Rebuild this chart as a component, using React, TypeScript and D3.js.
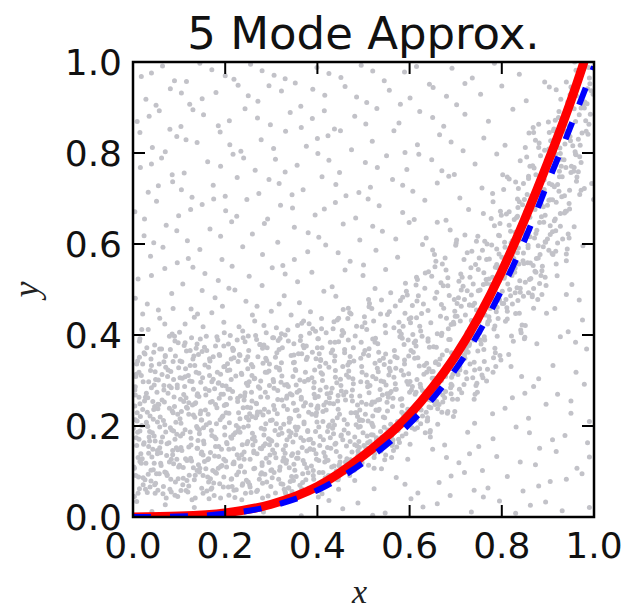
import React, { useEffect, useRef } from "react";
import * as d3 from "d3";

const W = 628;
const H = 615;
const plot = { left: 133, right: 594, top: 62, bottom: 517 };

const xTicks = [0, 0.2, 0.4, 0.6, 0.8, 1.0];
const yTicks = [0, 0.2, 0.4, 0.6, 0.8, 1.0];

// curves
const curveX = [0, 0.1, 0.2, 0.3, 0.4, 0.5, 0.6, 0.65, 0.7, 0.75, 0.8, 0.85, 0.9, 0.95, 0.975, 1.0];
const exactY = [0, 0.002, 0.009, 0.028, 0.067, 0.135, 0.225, 0.285, 0.355, 0.44, 0.54, 0.655, 0.78, 0.915, 0.99, 1.07];
const approxY = [0, 0.001, 0.007, 0.024, 0.059, 0.12, 0.205, 0.26, 0.325, 0.405, 0.5, 0.61, 0.735, 0.86, 0.925, 0.99];

// scatter samples, x,y pairs in thousandths
const spreadPts = [
  8,34, 41,12, 97,45, 133,21, 190,7, 236,38, 251,16, 312,29, 365,3, 402,44, 455,18, 488,31, 547,9, 603,40, 629,22, 688,47, 734,11, 795,35, 862,26, 931,14,
  70,27, 165,40, 283,11, 425,36, 520,4, 660,29, 760,44, 830,8, 895,33, 990,21,
  22,71, 74,93, 115,58, 168,84, 207,66, 279,97, 330,55, 348,80, 411,69, 470,91, 523,62, 571,87, 618,53, 664,76, 719,98, 770,64, 812,89, 846,57, 905,78, 974,95,
  48,52, 144,99, 250,77, 380,61, 445,85, 590,72, 690,90, 740,59, 880,68, 940,83,
  15,122, 60,141, 131,108, 152,136, 219,117, 262,145, 301,104, 358,129, 392,148, 447,113, 501,138, 539,106, 596,127, 650,149, 707,119, 758,102, 789,133, 873,115, 918,144, 963,107,
  95,127, 190,111, 330,140, 420,124, 480,103, 565,146, 680,131, 730,139, 840,121, 990,132,
  36,167, 88,189, 104,153, 177,176, 229,196, 287,161, 323,184, 381,170, 424,199, 463,156, 517,181, 578,164, 611,193, 676,158, 726,186, 781,172, 831,198, 882,151, 937,179, 986,163,
  10,186, 140,195, 260,158, 355,191, 490,166, 545,197, 645,176, 750,155, 860,185, 910,170,
  5,214, 54,238, 121,226, 159,203, 203,247, 246,219, 307,236, 339,208, 398,229, 435,249, 491,212, 552,233, 587,205, 642,242, 695,221, 741,206, 807,239, 858,217, 896,248, 950,228,
  30,201, 90,243, 270,231, 370,244, 465,204, 520,222, 615,213, 670,230, 780,227, 990,210,
  27,263, 79,288, 140,271, 186,295, 241,257, 275,283, 334,266, 372,298, 419,252, 476,279, 508,296, 564,261, 624,285, 659,254, 713,273, 767,299, 823,262, 869,287, 921,270, 979,292,
  110,254, 210,281, 305,297, 445,267, 535,258, 600,274, 690,292, 740,259, 850,272, 950,255,
  13,318, 67,341, 102,306, 164,329, 213,347, 258,311, 296,336, 353,322, 407,344, 450,303, 496,331, 543,349, 598,315, 637,338, 691,307, 752,326, 798,345, 843,309, 911,333, 961,318,
  40,333, 130,347, 190,314, 380,302, 470,340, 520,309, 570,327, 720,349, 820,331, 880,304,
  45,362, 91,387, 137,371, 182,396, 232,355, 284,378, 319,393, 366,359, 428,384, 459,368, 520,391, 568,353, 614,376, 669,399, 722,364, 763,389, 815,357, 876,381, 927,396, 984,369,
  15,392, 70,353, 160,366, 250,398, 400,372, 500,358, 640,392, 700,361, 850,395, 960,384,
  19,412, 58,437, 113,424, 171,449, 198,405, 264,431, 311,416, 343,444, 396,408, 443,433, 485,419, 537,446, 582,402, 646,427, 703,441, 738,413, 792,436, 851,421, 897,448, 944,407,
  85,402, 140,446, 230,418, 370,431, 470,449, 615,438, 670,404, 770,429, 830,447, 975,433,
  31,468, 84,491, 126,457, 178,482, 221,499, 269,463, 328,486, 361,471, 414,496, 467,459, 511,478, 559,493, 606,465, 655,481, 698,452, 749,497, 804,469, 866,488, 915,458, 968,477,
  5,481, 55,455, 150,498, 245,474, 300,452, 440,485, 580,476, 730,466, 840,494, 940,489,
  11,523, 69,546, 108,512, 156,535, 208,503, 252,529, 302,548, 357,517, 388,538, 432,506, 499,531, 548,544, 591,514, 641,539, 683,508, 731,527, 786,549, 839,519, 887,541, 952,511,
  40,531, 130,549, 185,520, 280,509, 330,534, 460,543, 525,502, 615,527, 760,511, 920,530,
  38,573, 96,559, 145,588, 193,566, 238,594, 281,577, 325,553, 379,583, 418,598, 471,562, 527,586, 574,571, 628,599, 671,556, 725,581, 773,567, 818,592, 862,558, 909,579, 976,596,
  65,593, 120,568, 215,551, 350,566, 445,581, 500,554, 650,587, 700,597, 790,551, 940,563,
  24,618, 72,641, 118,607, 167,633, 214,649, 259,622, 314,604, 350,637, 403,615, 456,644, 492,609, 541,628, 599,647, 636,613, 688,631, 745,606, 796,645, 847,624, 899,611, 957,638,
  45,603, 95,629, 190,617, 285,645, 380,625, 520,639, 570,611, 660,648, 720,620, 820,602,
  4,671, 51,694, 99,662, 150,687, 201,673, 247,698, 292,655, 346,679, 395,664, 439,691, 483,657, 534,684, 585,669, 633,696, 679,652, 728,676, 781,693, 834,661, 885,688, 940,672,
  25,655, 125,676, 175,699, 225,661, 320,685, 415,677, 510,699, 610,654, 760,667, 910,697,
  33,714, 86,737, 128,703, 174,729, 226,746, 273,711, 317,733, 369,719, 410,748, 462,706, 515,725, 563,742, 607,716, 660,734, 709,701, 757,723, 812,747, 855,709, 921,731, 972,718,
  55,728, 105,719, 200,705, 295,742, 345,708, 440,731, 490,713, 585,729, 685,749, 780,711,
  16,768, 62,789, 111,756, 162,781, 217,797, 265,762, 309,786, 356,773, 401,799, 448,757, 504,779, 550,794, 594,764, 648,785, 697,753, 742,776, 789,798, 870,767, 914,790, 966,759,
  40,776, 85,752, 190,771, 240,789, 330,758, 425,784, 530,768, 620,797, 670,761, 840,783,
  42,812, 95,836, 139,823, 189,846, 234,804, 278,829, 331,848, 376,815, 423,838, 474,807, 519,826, 566,849, 617,818, 665,840, 716,805, 761,833, 807,817, 859,844, 902,809, 949,827,
  15,845, 70,803, 115,829, 210,818, 305,810, 400,832, 450,849, 590,801, 690,824, 880,812,
  9,869, 57,893, 104,858, 153,884, 209,871, 243,897, 298,862, 341,889, 389,876, 437,853, 481,881, 529,898, 577,866, 622,891, 674,859, 720,885, 771,870, 824,896, 880,863, 935,886,
  35,881, 80,852, 130,895, 185,860, 270,877, 365,856, 415,893, 505,864, 650,878, 960,869,
  28,918, 81,941, 123,907, 180,933, 228,949, 271,914, 322,936, 364,903, 416,927, 460,946, 507,911, 556,938, 601,921, 651,944, 702,906, 754,929, 800,947, 853,915, 918,939, 980,912,
  50,905, 105,932, 150,919, 250,926, 295,948, 390,940, 485,923, 580,907, 680,925, 950,945,
  18,968, 64,991, 116,957, 171,983, 219,962, 255,995, 306,971, 352,954, 399,988, 451,966, 495,993, 545,959, 589,978, 643,951, 692,986, 736,965, 784,997, 838,973, 893,956, 961,982,
  40,976, 90,959, 145,997, 200,970, 280,981, 330,963, 425,975, 520,980, 615,990, 720,953,
];

const bandPts = [
  3,45, 12,88, 27,61, 41,132, 8,157, 19,201, 35,176, 47,243, 5,268, 22,297, 38,322, 14,351, 30,372, 44,215, 2,110, 17,139, 33,94, 48,167, 9,229, 25,255,
  40,284, 6,309, 21,336, 36,188, 49,74, 11,52, 28,118, 43,149, 1,195, 16,221, 32,262, 46,290, 7,314, 24,361, 39,103, 13,171, 29,208, 45,236, 4,279, 20,128,
  34,155, 48,319, 10,343, 26,82, 42,185, 15,249, 31,230, 37,66, 23,160, 46,118,
  57,336, 91,48, 66,212, 83,127, 52,274, 98,383, 74,91, 61,165, 88,302, 79,239, 95,182, 54,59, 70,355, 86,146, 63,257, 99,110, 76,323, 58,198, 92,77, 67,289,
  81,368, 53,139, 97,226, 72,42, 89,264, 60,118, 84,191, 75,309, 94,152, 56,247, 69,99, 87,342, 64,176, 80,61, 96,284, 59,220, 73,135, 90,397, 55,301, 82,83,
  68,253, 93,208, 62,369, 78,163, 99,328, 51,95, 85,233, 71,187, 65,51, 88,117,
  134,219, 108,71, 147,296, 121,154, 102,343, 139,102, 115,262, 128,38, 144,183, 111,377, 125,129, 137,318, 104,206, 149,63, 118,239, 131,281, 106,146, 142,357, 122,92, 113,192,
  136,251, 101,114, 146,227, 127,394, 119,55, 141,168, 107,305, 133,82, 124,333, 148,139, 110,269, 138,199, 116,365, 103,178, 129,246, 145,107, 120,311, 135,42, 112,287, 143,265,
  105,232, 126,173, 139,380, 117,124, 132,354, 149,213, 109,85, 123,299, 140,151, 114,326,
  162,88, 187,261, 153,196, 176,47, 199,331, 168,142, 184,389, 157,235, 193,113, 171,297, 150,364, 180,172, 196,66, 165,278, 189,214, 155,122, 174,352, 198,245, 160,57, 183,318,
  170,190, 192,149, 151,306, 178,99, 197,376, 163,226, 186,133, 158,268, 175,75, 194,289, 167,343, 181,205, 154,161, 190,42, 172,254, 199,180, 159,397, 185,107, 166,311, 195,222,
  152,91, 177,282, 188,355, 164,128, 191,270, 156,334, 179,155, 197,127, 169,61, 182,240,
  213,302, 238,73, 204,161, 226,389, 247,218, 219,121, 233,266, 208,48, 245,345, 222,185, 201,247, 236,137, 216,371, 242,99, 229,229, 210,323, 249,166, 224,60, 206,281, 240,197,
  218,150, 231,357, 203,110, 246,294, 227,254, 214,84, 239,394, 209,207, 235,316, 221,43, 248,241, 212,176, 230,129, 205,337, 243,273, 225,93, 217,366, 237,159, 202,229, 244,52,
  223,310, 211,261, 234,112, 228,189, 207,380, 241,143, 219,350, 232,216, 215,67, 249,326,
  262,141, 287,318, 253,71, 276,231, 299,102, 268,390, 284,180, 257,274, 293,46, 271,352, 250,200, 280,119, 296,289, 265,167, 289,405, 255,240, 274,83, 298,212, 260,330, 283,156,
  270,59, 292,263, 251,366, 278,195, 297,136, 263,304, 286,94, 258,221, 275,379, 294,172, 267,250, 281,42, 254,127, 290,344, 272,286, 299,67, 259,184, 285,237, 266,399, 295,321,
  252,297, 279,150, 288,205, 264,107, 291,372, 256,54, 277,264, 296,159, 269,224, 282,338,
  313,227, 338,64, 304,302, 326,148, 349,381, 319,110, 333,261, 308,190, 345,56, 322,339, 301,167, 336,411, 316,83, 342,216, 329,290, 310,130, 348,250, 324,372, 306,98, 340,177,
  318,323, 331,52, 303,394, 346,139, 327,204, 314,278, 339,108, 309,351, 335,236, 321,73, 347,309, 312,158, 330,400, 305,245, 343,185, 325,123, 317,368, 337,287, 302,213, 344,89,
  323,257, 311,329, 334,170, 328,61, 307,140, 349,356, 320,195, 341,271, 315,388, 332,118,
  362,301, 387,112, 353,181, 376,376, 399,239, 368,76, 384,150, 357,421, 393,270, 371,205, 350,340, 380,97, 396,188, 365,259, 389,362, 355,129, 374,318, 398,67, 360,222, 383,404,
  370,168, 392,284, 351,103, 378,351, 397,139, 363,388, 386,246, 358,197, 375,82, 394,323, 367,153, 381,230, 354,290, 390,414, 372,117, 399,209, 359,359, 385,171, 366,62, 395,262,
  352,234, 377,145, 388,306, 364,397, 391,91, 356,274, 379,190, 397,348, 369,124, 382,425,
  413,170, 438,354, 404,98, 426,262, 449,133, 419,405, 433,211, 408,317, 445,82, 422,188, 401,244, 436,429, 416,121, 442,295, 429,151, 410,372, 448,226, 424,91, 406,279, 440,162,
  418,338, 431,110, 403,198, 446,385, 427,250, 414,142, 439,307, 409,436, 435,183, 421,271, 447,114, 412,232, 430,361, 405,157, 443,218, 425,329, 417,86, 437,202, 402,392, 444,255,
  423,125, 411,300, 434,414, 428,174, 407,346, 441,101, 419,235, 432,283,
  458,191, 495,384, 472,117, 451,289, 486,156, 466,436, 492,235, 479,343, 460,103, 498,212, 474,266, 456,456, 490,140, 468,321, 481,176, 453,399, 496,252, 477,304, 464,128, 489,197,
  459,361, 485,229, 471,166, 497,418, 462,275, 480,108, 455,331, 493,214, 475,143, 467,389, 487,246, 452,180, 494,297, 473,446, 461,121, 484,203, 478,372, 457,268, 491,153, 469,340,
  482,229, 463,312, 488,135, 454,410, 476,255, 499,185,
  510,211, 548,405, 524,139, 506,312, 540,176, 518,458, 531,257, 503,366, 546,126, 527,235, 514,289, 539,477, 509,163, 535,344, 521,199, 547,421, 512,273, 530,327, 505,152, 543,220,
  525,384, 517,247, 537,188, 502,440, 544,297, 523,131, 511,355, 534,237, 528,168, 507,412, 541,268, 519,203, 532,319, 513,469, 538,145, 504,226, 526,393, 549,290, 519,253, 533,362,
  508,178, 545,335, 522,431, 501,157, 536,280,
  596,237, 577,428, 564,169, 589,336, 559,204, 585,483, 571,281, 597,389, 562,157, 580,259, 555,312, 593,496, 575,190, 567,366, 587,225, 552,445, 594,298, 573,350, 561,178, 584,245,
  578,408, 557,272, 591,214, 569,464, 582,322, 563,162, 588,379, 554,263, 576,197, 599,435, 569,293, 583,230, 558,341, 595,488, 572,154, 551,252, 586,419, 566,307, 592,183, 579,396,
  560,276, 598,354, 574,210, 556,451,
  612,270, 630,468, 605,196, 643,373, 625,235, 617,522, 637,318, 602,427, 644,186, 623,292, 611,349, 634,536, 628,222, 607,401, 641,258, 619,486, 632,333, 613,387, 638,211, 604,279,
  626,447, 649,305, 619,247, 633,503, 608,362, 645,190, 622,419, 601,298, 636,230, 616,475, 642,326, 629,263, 610,383, 648,529, 624,205, 606,287, 640,454, 618,350, 631,314, 603,438,
  646,240, 627,397, 614,510, 639,218,
  694,314, 673,508, 661,238, 684,414, 678,276, 657,562, 691,361, 669,467, 682,228, 663,335, 688,390, 654,577, 676,262, 699,441, 669,300, 683,526, 658,373, 695,428, 672,253, 651,320,
  686,487, 666,347, 692,289, 679,543, 660,403, 698,232, 674,459, 656,339, 690,271, 668,515, 681,366, 653,305, 696,424, 677,569, 664,247, 689,329, 659,494, 685,390, 671,356, 697,478,
  662,282, 680,437, 655,550, 693,259,
  719,356, 733,548, 708,281, 745,455, 722,318, 701,602, 736,401, 716,507, 742,270, 729,377, 710,431, 748,617, 724,304, 706,482, 740,340, 718,566, 731,414, 703,469, 746,294, 727,362,
  714,527, 739,389, 709,331, 735,584, 721,444, 747,274, 712,499, 730,381, 705,313, 743,555, 725,406, 717,347, 737,465, 702,609, 744,289, 723,370, 711,534, 734,432, 728,397, 707,518,
  741,323, 719,478,
  790,397, 768,600, 781,318, 753,499, 796,355, 777,656, 764,444, 789,555, 759,306, 785,420, 771,476, 797,672, 762,342, 780,527, 755,380, 793,619, 775,458, 767,513, 787,331, 752,405,
  794,578, 773,432, 761,368, 784,640, 778,488, 757,312, 791,548, 769,424, 782,350, 763,606, 788,451, 754,389, 776,511, 799,663, 769,325, 783,413, 758,586, 795,477, 772,440, 751,569,
  786,361, 766,522,
  809,478, 835,680, 821,398, 847,580, 812,435, 830,736, 805,525, 843,636, 825,386, 817,500, 837,556, 802,752, 844,422, 823,607, 811,460, 834,699, 828,538, 807,593, 841,411, 819,486,
  832,658, 813,512, 838,448, 804,720, 826,568, 849,392, 819,628, 833,504, 808,430, 845,686, 822,531, 801,469, 836,591, 816,743, 842,405, 829,493, 810,666, 848,557,
  875,568, 867,772, 887,489, 852,671, 894,527, 873,828, 861,616, 884,727, 878,478, 857,592, 891,648, 869,845, 882,513, 863,699, 888,551, 854,791, 876,630, 899,685, 869,502, 883,577,
  858,749, 895,604, 872,540, 851,812, 886,660, 866,484, 892,720, 879,596, 860,522, 898,778, 874,623, 856,559, 890,682, 868,856,
  936,668, 916,872, 942,589, 929,771, 910,627, 948,928, 924,716, 906,827, 940,578, 918,692, 931,748, 903,945, 946,613, 927,799, 914,651, 939,891, 909,730, 935,785, 921,602, 947,677,
  912,849, 930,704, 905,640, 943,912, 925,760, 917,584, 937,820, 902,696, 944,622, 923,878,
  957,768, 991,952, 969,709, 982,871, 963,747, 988,988, 954,816, 976,907, 999,698, 969,792, 983,848, 958,1000, 995,733, 972,899, 951,771, 986,941, 966,830, 992,885, 979,722, 960,797,
  998,929, 974,844, 956,760, 990,965,
];

const corePts = [
  14,62, 47,71, 83,55, 121,68, 152,52, 188,73, 219,59, 254,66, 281,74, 309,53, 337,64, 362,70, 398,57, 421,69, 446,61, 31,54, 66,67, 104,58, 171,64, 237,70, 268,56, 325,72, 381,63, 410,51,
  6,91, 39,79, 72,97, 98,84, 135,92, 164,77, 197,88, 229,99, 246,81, 277,94, 302,86, 341,78, 368,95, 392,83, 427,90, 458,97, 481,80, 22,86, 57,95, 117,80, 181,96, 213,83, 290,77, 354,89, 412,98, 443,82,
  18,118, 44,104, 79,121, 109,109, 142,115, 173,102, 201,123, 233,111, 262,106, 295,120, 318,103, 349,116, 377,108, 403,124, 436,112, 462,101, 497,119, 523,107, 3,107, 61,113, 127,123, 158,106, 217,117, 280,113, 333,124, 391,102, 449,121, 511,114,
  11,131, 53,146, 86,137, 114,128, 149,143, 177,134, 208,149, 241,127, 269,139, 303,147, 327,130, 358,141, 384,149, 417,133, 441,144, 472,126, 504,138, 536,147, 561,131, 34,140, 97,148, 162,126, 226,137, 289,129, 344,135, 398,127, 488,145, 548,136,
  24,163, 58,152, 91,171, 126,158, 153,167, 186,155, 214,173, 247,161, 276,151, 298,169, 331,157, 364,174, 391,162, 422,153, 455,170, 481,159, 514,166, 542,152, 576,171, 601,160, 7,174, 74,161, 139,151, 203,164, 259,172, 347,165, 438,160, 528,174,
  15,189, 46,178, 81,196, 108,183, 144,192, 171,179, 199,197, 232,186, 263,176, 285,193, 316,181, 352,198, 379,188, 406,177, 433,195, 467,184, 493,199, 521,180, 553,191, 584,178, 617,196, 634,185, 32,199, 124,187, 218,181, 338,189, 451,178, 568,198,
  9,211, 37,222, 69,203, 102,216, 131,224, 166,207, 193,219, 224,201, 251,213, 282,224, 311,205, 339,217, 371,209, 397,223, 426,202, 458,214, 487,221, 518,206, 546,218, 579,209, 604,224, 639,212, 661,204, 53,209, 148,213, 266,218, 412,210, 593,201,
  21,236, 54,248, 87,229, 116,241, 147,233, 179,247, 208,228, 239,240, 268,249, 294,231, 327,244, 356,235, 388,226, 414,246, 445,237, 473,229, 506,248, 532,234, 563,243, 591,227, 622,239, 655,247, 683,232, 4,244, 134,249, 253,227, 401,239, 611,230,
  13,263, 43,254, 76,272, 103,259, 139,267, 168,252, 196,270, 227,261, 258,255, 287,274, 314,258, 345,268, 374,251, 402,265, 429,273, 461,257, 492,266, 524,253, 551,271, 583,260, 614,274, 647,256, 672,268, 704,259, 29,272, 121,251, 242,266, 365,263,
  5,286, 34,297, 67,279, 96,290, 128,298, 157,282, 185,294, 216,276, 249,289, 277,299, 306,283, 334,291, 361,278, 393,296, 419,285, 452,277, 478,293, 509,286, 538,299, 569,281, 597,292, 628,278, 661,297, 689,284, 718,291, 83,284, 202,288, 321,296,
  18,311, 49,302, 82,320, 113,308, 143,316, 174,303, 205,322, 236,313, 264,305, 291,318, 323,310, 352,324, 380,301, 411,314, 439,322, 468,307, 497,318, 527,304, 558,321, 587,312, 616,302, 648,319, 678,309, 709,323, 737,306, 63,313,
  8,336, 39,347, 71,329, 106,341, 134,333, 166,348, 197,330, 228,342, 257,335, 288,349, 317,327, 348,339, 376,346, 405,331, 437,343, 466,334, 494,349, 525,338, 556,327, 589,345, 621,332, 657,341, 694,347, 731,336,
  26,358, 58,369, 92,354, 124,366, 155,373, 187,357, 218,368, 249,352, 281,371, 312,361, 343,355, 371,372, 404,359, 433,367, 471,353, 512,370, 548,358, 603,366, 652,374, 701,357, 748,365, 785,371,
  14,386, 47,378, 79,397, 113,383, 146,391, 179,376, 211,399, 243,385, 276,379, 305,394, 337,387, 369,377, 401,392, 438,384, 482,398, 531,381, 584,393, 640,386, 713,379, 762,396,
  33,412, 69,424, 101,406, 152,418, 197,428, 238,409, 284,421, 322,403, 366,426, 409,414, 457,405, 503,427, 566,416, 624,409, 690,423, 751,430,
  21,446, 87,458, 133,439, 194,463, 259,444, 317,468, 385,451, 446,437, 512,462, 590,448, 667,441, 730,466,
];

const ridgePts = [
  712,463, 734,488, 756,457, 779,479, 801,496, 823,468, 847,485, 869,459, 725,497, 768,472, 812,452, 858,493, 741,470, 790,461, 835,476,
  738,512, 761,537, 784,506, 806,529, 829,547, 851,516, 874,538, 896,509, 749,544, 795,520, 840,503, 885,531, 772,523, 818,541, 863,524,
  767,566, 789,589, 812,558, 834,581, 857,597, 879,569, 902,586, 918,556, 778,598, 823,573, 868,553, 911,577, 800,571, 846,563, 890,594,
  795,618, 816,641, 838,609, 860,632, 882,647, 905,621, 927,639, 806,604, 849,646, 871,613, 917,629, 829,626, 894,605, 932,611,
  816,671, 838,693, 861,659, 883,684, 905,697, 927,667, 946,689, 827,654, 872,676, 916,655, 849,698, 938,672, 894,663,
  836,722, 858,744, 881,711, 903,733, 925,748, 947,718, 962,738, 869,703, 914,726, 847,733, 936,706, 892,741,
  861,771, 884,794, 906,762, 928,786, 950,757, 972,779, 874,752, 917,798, 939,768, 895,775, 961,796,
  881,822, 903,845, 926,811, 948,836, 970,817, 987,841, 893,806, 937,848, 959,803, 914,829,
  901,868, 924,891, 946,859, 968,884, 989,863, 913,853, 957,897, 935,872, 979,899,
  928,918, 951,944, 973,911, 994,937, 940,956, 962,926, 985,908, 948,903,
];

function toPairs(flat: number[]): [number, number][] {
  const out: [number, number][] = [];
  for (let i = 0; i + 1 < flat.length; i += 2) out.push([flat[i] / 1000, flat[i + 1] / 1000]);
  return out;
}

export default function App() {
  const svgRef = useRef<SVGSVGElement | null>(null);

  useEffect(() => {
    document.body.style.margin = "0";
    const svg = d3.select(svgRef.current);
    svg.selectAll("*").remove();

    const x = d3.scaleLinear().domain([0, 1]).range([plot.left, plot.right]);
    const y = d3.scaleLinear().domain([0, 1]).range([plot.bottom, plot.top]);

    svg.append("rect").attr("width", W).attr("height", H).attr("fill", "#ffffff");

    svg.append("defs").append("clipPath").attr("id", "plotClip")
      .append("rect")
      .attr("x", plot.left).attr("y", plot.top)
      .attr("width", plot.right - plot.left).attr("height", plot.bottom - plot.top);

    const g = svg.append("g").attr("clip-path", "url(#plotClip)");

    const pts = toPairs(spreadPts)
      .concat(toPairs(bandPts))
      .concat(toPairs(corePts))
      .concat(toPairs(ridgePts));
    g.append("g")
      .selectAll("circle")
      .data(pts)
      .join("circle")
      .attr("cx", d => x(d[0]))
      .attr("cy", d => y(d[1]))
      .attr("r", 2.5)
      .attr("fill", "#c2c2c8");

    const line = d3.line<number>()
      .x((_, i) => x(curveX[i]))
      .y(d => y(d))
      .curve(d3.curveMonotoneX);

    g.append("path")
      .attr("d", line(exactY))
      .attr("fill", "none")
      .attr("stroke", "#ff0000")
      .attr("stroke-width", 9);

    g.append("path")
      .attr("d", line(approxY))
      .attr("fill", "none")
      .attr("stroke", "#0000ff")
      .attr("stroke-width", 6)
      .attr("stroke-dasharray", "18 19");

    // frame
    svg.append("rect")
      .attr("x", plot.left).attr("y", plot.top)
      .attr("width", plot.right - plot.left).attr("height", plot.bottom - plot.top)
      .attr("fill", "none").attr("stroke", "#000").attr("stroke-width", 2.5);

    const tickLen = 12;
    const ticks = svg.append("g").attr("stroke", "#000").attr("stroke-width", 2);
    xTicks.forEach(t => {
      ticks.append("line").attr("x1", x(t)).attr("x2", x(t)).attr("y1", plot.bottom).attr("y2", plot.bottom - tickLen);
      ticks.append("line").attr("x1", x(t)).attr("x2", x(t)).attr("y1", plot.top).attr("y2", plot.top + tickLen);
    });
    yTicks.forEach(t => {
      ticks.append("line").attr("y1", y(t)).attr("y2", y(t)).attr("x1", plot.left).attr("x2", plot.left + tickLen);
      ticks.append("line").attr("y1", y(t)).attr("y2", y(t)).attr("x1", plot.right).attr("x2", plot.right - tickLen);
    });

    const font = "DejaVu Sans, sans-serif";
    svg.append("g").selectAll("text").data(xTicks).join("text")
      .attr("x", d => x(d)).attr("y", plot.bottom + 41)
      .attr("text-anchor", "middle")
      .attr("font-family", font).attr("font-size", 36).attr("fill", "#111")
      .text(d => d.toFixed(1));

    svg.append("g").selectAll("text").data(yTicks).join("text")
      .attr("x", plot.left - 11).attr("y", d => y(d) + 13)
      .attr("text-anchor", "end")
      .attr("font-family", font).attr("font-size", 36).attr("fill", "#111")
      .text(d => d.toFixed(1));

    svg.append("text")
      .attr("x", (plot.left + plot.right) / 2).attr("y", 49)
      .attr("text-anchor", "middle")
      .attr("font-family", font).attr("font-size", 45).attr("fill", "#111")
      .text("5 Mode Approx.");

    svg.append("text")
      .attr("x", (plot.left + plot.right) / 2 - 4).attr("y", 603)
      .attr("text-anchor", "middle")
      .attr("font-family", "Liberation Serif, serif").attr("font-style", "italic")
      .attr("font-size", 34).attr("fill", "#222")
      .text("x");

    svg.append("text")
      .attr("transform", `translate(38,${(plot.top + plot.bottom) / 2}) rotate(-90)`)
      .attr("text-anchor", "middle")
      .attr("font-family", "Liberation Serif, serif").attr("font-style", "italic")
      .attr("font-size", 36).attr("fill", "#222")
      .text("y");
  }, []);

  return <svg ref={svgRef} width={W} height={H} viewBox={`0 0 ${W} ${H}`} style={{ display: "block" }} />;
}
